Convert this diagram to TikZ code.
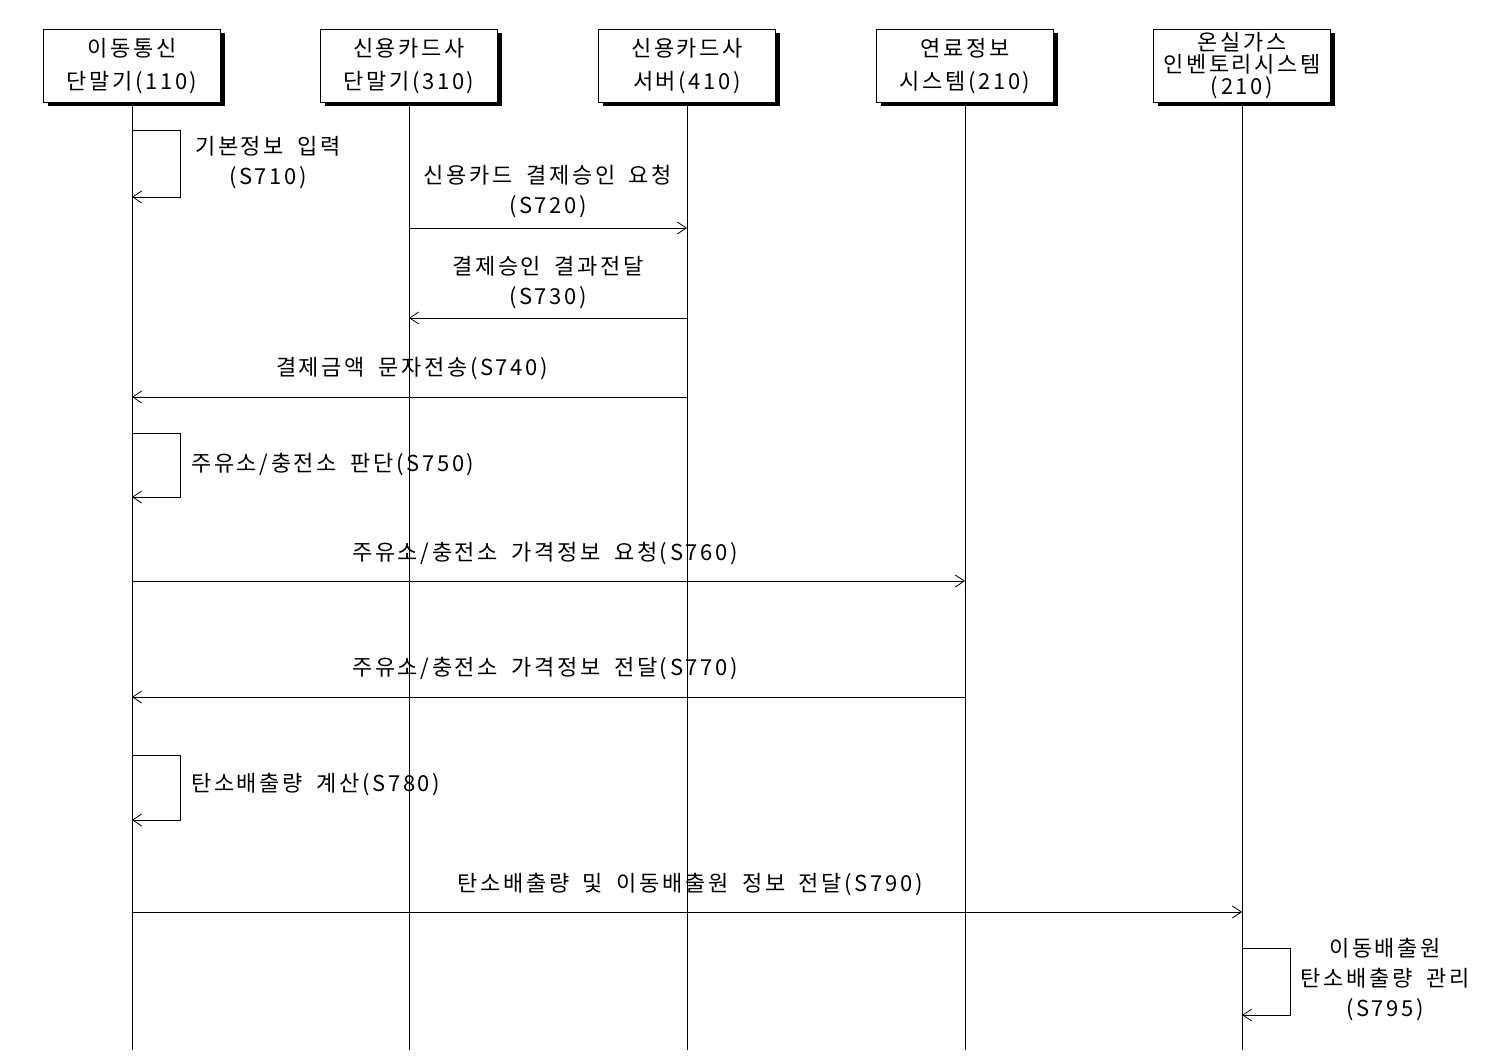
\documentclass[tikz,border=0pt]{standalone}
\usepackage{fontspec}
\setmainfont{Noto Sans CJK KR}[LetterSpace=12,WordSpace=1.8]
\usetikzlibrary{arrows.meta,shadows}
\begin{document}
\begin{tikzpicture}[x=1pt,y=-1pt,
  font=\fontsize{22}{30}\selectfont,
  actor/.style={draw,fill=white,line width=1pt,minimum width=177pt,minimum height=73pt,align=center,inner sep=1pt,
    drop shadow={shadow xshift=4pt,shadow yshift=-4pt,opacity=1,fill=black}},
  life/.style={line width=0.8pt},
  msg/.style={line width=0.8pt,-{Straight Barb[length=9pt,width=12pt]}},
  lbl/.style={align=center,inner sep=0pt}]
\useasboundingbox (0,0) rectangle (1500,1059);
\node[actor,font=\fontsize{22}{33}\selectfont] (a) at (132,66) {이동통신\\단말기(110)};
\node[actor,font=\fontsize{22}{33}\selectfont] (b) at (409,66) {신용카드사\\단말기(310)};
\node[actor,font=\fontsize{22}{33}\selectfont] (c) at (687,66) {신용카드사\\서버(410)};
\node[actor,font=\fontsize{22}{33}\selectfont] (d) at (965,66) {연료정보\\시스템(210)};
\node[actor,font=\fontsize{22}{22}\selectfont] (e) at (1242,66) {온실가스\\인벤토리시스템\\(210)};
\foreach \n/\x in {a/132,b/409,c/687,d/965,e/1242}{
  \coordinate (\n b) at (\x,1050);
  \draw[life] (\n.south) -- (\n b);
}
% S710
\coordinate (p1) at (132,130); \coordinate (p2) at (180,130); \coordinate (p3) at (180,197); \coordinate (p4) at (132,197);
\draw[msg] (p1) -- (p2) -- (p3) -- (p4);
\node[lbl] (l1) at (268,163) {기본정보 입력\\(S710)};
% S720
\coordinate (q1) at (409,228); \coordinate (q2) at (687,228);
\draw[msg] (q1) -- (q2);
\node[lbl] (l2) at (548,192) {신용카드 결제승인 요청\\(S720)};
% S730
\coordinate (r1) at (687,318); \coordinate (r2) at (409,318);
\draw[msg] (r1) -- (r2);
\node[lbl] (l3) at (548,283) {결제승인 결과전달\\(S730)};
% S740
\coordinate (s1) at (687,397); \coordinate (s2) at (132,397);
\draw[msg] (s1) -- (s2);
\node[lbl] (l4) at (412,369) {결제금액 문자전송(S740)};
% S750
\coordinate (t1) at (132,433); \coordinate (t2) at (180,433); \coordinate (t3) at (180,497); \coordinate (t4) at (132,497);
\draw[msg] (t1) -- (t2) -- (t3) -- (t4);
\node[lbl,anchor=west] (l5) at (191,465) {주유소/충전소 판단(S750)};
% S760
\coordinate (u1) at (132,581); \coordinate (u2) at (965,581);
\draw[msg] (u1) -- (u2);
\node[lbl] (l6) at (545,554) {주유소/충전소 가격정보 요청(S760)};
% S770
\coordinate (v1) at (965,697); \coordinate (v2) at (132,697);
\draw[msg] (v1) -- (v2);
\node[lbl] (l7) at (545,669) {주유소/충전소 가격정보 전달(S770)};
% S780
\coordinate (w1) at (132,755); \coordinate (w2) at (180,755); \coordinate (w3) at (180,820); \coordinate (w4) at (132,820);
\draw[msg] (w1) -- (w2) -- (w3) -- (w4);
\node[lbl,anchor=west] (l8) at (191,785) {탄소배출량 계산(S780)};
% S790
\coordinate (x1) at (132,912); \coordinate (x2) at (1242,912);
\draw[msg] (x1) -- (x2);
\node[lbl] (l9) at (690,884) {탄소배출량 및 이동배출원 정보 전달(S790)};
% S795
\coordinate (y1) at (1242,948); \coordinate (y2) at (1290,948); \coordinate (y3) at (1290,1015); \coordinate (y4) at (1242,1015);
\draw[msg] (y1) -- (y2) -- (y3) -- (y4);
\node[lbl,font=\fontsize{22}{30}\selectfont] (l10) at (1385,979) {이동배출원\\탄소배출량 관리\\(S795)};
\end{tikzpicture}
\end{document}
